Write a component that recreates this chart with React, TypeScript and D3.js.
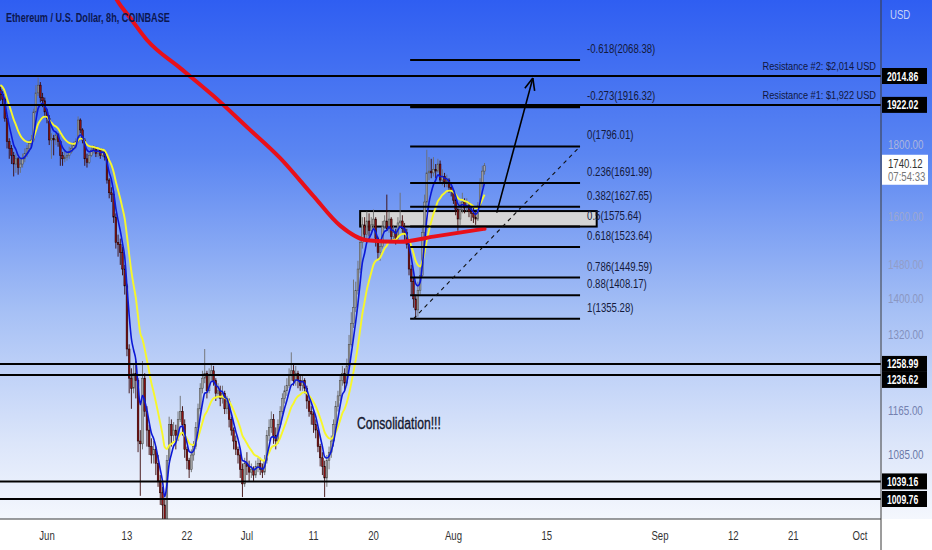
import * as d3 from 'd3'

const W = 932
const H = 550
const PLOT_R = 881
const PLOT_B = 519

// ETH/USD 8h candles from 2022-05-25 00:00 UTC
const START = Date.UTC(2022, 4, 25, 0, 0)
const BAR_MS = 8 * 3600 * 1000
const OPEN_0 = 1970

const closes = [
  1955, 1940, 1880, 1810, 1790, 1770, 1745, 1760, 1735, 1745, 1760, 1775, 1790, 1805, 1815,
  1900, 1960, 1985, 1945, 1935, 1900, 1880, 1815, 1820, 1815, 1830, 1810, 1770, 1760, 1765,
  1770, 1780, 1790, 1800, 1810, 1875, 1845, 1815, 1760, 1750, 1770, 1785, 1790, 1775, 1785,
  1770, 1780, 1765, 1700, 1665, 1660, 1600, 1535, 1530, 1510, 1470, 1430, 1290, 1230, 1210,
  1240, 1225, 1110, 1105, 1230, 1165, 1130, 1100, 1085, 1095, 1070, 1040, 1020, 1000, 960,
  1075, 1140, 1120, 1130, 1120, 1150, 1165, 1140, 1095, 1075, 1060, 1085, 1100, 1135, 1170,
  1210, 1230, 1240, 1205, 1235, 1245, 1225, 1200, 1205, 1190, 1200, 1170, 1185, 1150, 1130,
  1110, 1095, 1085, 1060, 1035, 1070, 1065, 1055, 1060, 1050, 1065, 1070, 1060, 1055, 1075,
  1120, 1135, 1150, 1120, 1110, 1140, 1165, 1190, 1205, 1215, 1235, 1245, 1225, 1240, 1225,
  1215, 1225, 1210, 1185, 1165, 1160, 1140, 1130, 1100, 1080, 1065, 1045, 1075, 1090, 1110,
  1140, 1175, 1195, 1225, 1240, 1220, 1255, 1300, 1345, 1380, 1420, 1470, 1535, 1580, 1555,
  1590, 1565, 1580, 1595, 1545, 1510, 1525, 1575, 1590, 1570, 1595, 1550, 1560, 1545, 1585,
  1590, 1570, 1560, 1530, 1470, 1440, 1400, 1375, 1420, 1455, 1560, 1640, 1720, 1725, 1720,
  1730, 1725, 1745, 1700, 1710, 1695, 1700, 1680, 1670, 1645, 1620, 1595, 1620, 1640, 1625,
  1630, 1615, 1610, 1600, 1595, 1630, 1690, 1725, 1740.12,
]
const highs = [
  1980, 1965, 1945, 1890, 1820, 1800, 1780, 1775, 1765, 1760, 1775, 1790, 1800, 1815, 1830,
  1910, 1985, 2010, 1995, 1960, 1945, 1910, 1890, 1835, 1830, 1840, 1835, 1815, 1780, 1785,
  1780, 1795, 1805, 1810, 1820, 1886, 1880, 1850, 1820, 1775, 1780, 1795, 1800, 1795, 1795,
  1790, 1790, 1785, 1770, 1705, 1680, 1670, 1610, 1555, 1545, 1525, 1480, 1435, 1300, 1250,
  1260, 1265, 1230, 1130, 1265, 1240, 1175, 1140, 1115, 1110, 1100, 1085, 1050, 1030, 1010,
  1085, 1155, 1150, 1145, 1140, 1165, 1195, 1175, 1150, 1100, 1080, 1095, 1110, 1145, 1180,
  1220, 1245, 1290, 1245, 1250, 1260, 1255, 1230, 1220, 1215, 1215, 1205, 1195, 1190, 1155,
  1135, 1120, 1100, 1090, 1070, 1080, 1090, 1075, 1070, 1065, 1075, 1080, 1080, 1070, 1085,
  1130, 1150, 1165, 1160, 1135, 1150, 1175, 1200, 1215, 1230, 1250, 1283, 1260, 1255, 1245,
  1235, 1235, 1230, 1215, 1195, 1175, 1165, 1150, 1135, 1105, 1090, 1075, 1085, 1100, 1120,
  1150, 1185, 1205, 1235, 1255, 1250, 1270, 1320, 1370, 1445, 1440, 1490, 1550, 1600, 1600,
  1615, 1610, 1600, 1620, 1600, 1550, 1540, 1590, 1605, 1660, 1615, 1600, 1580, 1570, 1600,
  1665, 1605, 1585, 1570, 1535, 1480, 1450, 1410, 1440, 1475, 1580, 1660, 1786, 1765, 1760,
  1765, 1745, 1760, 1755, 1730, 1720, 1715, 1705, 1690, 1675, 1650, 1625, 1640, 1665, 1650,
  1650, 1640, 1630, 1625, 1615, 1640, 1705, 1740, 1748,
]
const lows = [
  1935, 1920, 1870, 1790, 1760, 1745, 1710, 1720, 1715, 1720, 1735, 1750, 1765, 1780, 1795,
  1810, 1895, 1950, 1930, 1915, 1885, 1865, 1800, 1760, 1770, 1800, 1795, 1740, 1740, 1750,
  1755, 1760, 1775, 1785, 1790, 1805, 1835, 1805, 1740, 1735, 1745, 1765, 1775, 1765, 1765,
  1760, 1765, 1755, 1690, 1650, 1640, 1585, 1520, 1500, 1480, 1455, 1410, 1275, 1200, 1170,
  1200, 1190, 1090, 1015, 1095, 1155, 1100, 1085, 1070, 1070, 1050, 1030, 1000, 960, 880,
  950, 1070, 1100, 1110, 1095, 1110, 1145, 1120, 1080, 1060, 1045, 1055, 1075, 1095, 1130,
  1165, 1200, 1220, 1190, 1200, 1225, 1215, 1185, 1190, 1175, 1180, 1160, 1160, 1135, 1120,
  1095, 1085, 1070, 1045, 1013, 1030, 1050, 1040, 1045, 1040, 1045, 1055, 1050, 1045, 1050,
  1070, 1110, 1125, 1105, 1095, 1105, 1135, 1160, 1180, 1195, 1210, 1225, 1215, 1215, 1210,
  1205, 1205, 1200, 1170, 1155, 1140, 1125, 1115, 1090, 1065, 1050, 1013, 1030, 1060, 1080,
  1100, 1130, 1165, 1185, 1215, 1205, 1215, 1250, 1295, 1335, 1370, 1410, 1460, 1520, 1540,
  1545, 1550, 1555, 1570, 1525, 1495, 1490, 1520, 1570, 1565, 1560, 1535, 1540, 1530, 1540,
  1575, 1560, 1540, 1520, 1455, 1410, 1380, 1355, 1360, 1410, 1450, 1550, 1630, 1700, 1705,
  1710, 1705, 1720, 1690, 1685, 1680, 1680, 1665, 1655, 1635, 1605, 1565, 1580, 1610, 1610,
  1615, 1600, 1590, 1585, 1580, 1590, 1625, 1680, 1715,
]

// moving averages on the closes (blue fast, yellow slow), seeded from the picture
const FAST_LEN = 5
const FAST_SEED = 1970
const SLOW_LEN = 13
const SLOW_SEED = 1990

// long moving average (red), read at a few dates
const longMaDates = [
  '2022-06-10T00:00Z', '2022-06-11T12:00Z', '2022-06-13T12:00Z', '2022-06-16T00:00Z',
  '2022-06-21T00:00Z', '2022-06-26T00:00Z', '2022-07-01T00:00Z', '2022-07-06T00:00Z',
  '2022-07-11T00:00Z', '2022-07-15T00:00Z', '2022-07-19T00:00Z', '2022-07-24T00:00Z',
  '2022-07-29T00:00Z', '2022-08-05T16:00Z',
]
const longMaValues = [2357, 2281, 2215, 2137, 2041, 1950, 1854, 1762, 1656, 1578, 1541, 1537, 1550, 1570]

// horizontal support / resistance levels
const levels = [2014.86, 1922.02, 1258.99, 1236.62, 1039.16, 1009.76]
const levelLabels = ['2014.86', '1922.02', '1258.99', '1236.62', '1039.16', '1009.76']

// fibonacci retracement
const fibRatios = ['-0.618', '-0.273', '0', '0.236', '0.382', '0.5', '0.618', '0.786', '0.88', '1']
const fibPrices = [2068.38, 1916.32, 1796.01, 1691.99, 1627.65, 1575.64, 1523.64, 1449.59, 1408.17, 1355.28]
const FIB_FROM = '2022-07-25T12:00Z'
const FIB_TO = '2022-08-20T00:00Z'

// consolidation box
const BOX_FROM = '2022-07-18T00:00Z'
const BOX_TO = '2022-08-22T12:00Z'
const BOX_TOP = 1616
const BOX_BOTTOM = 1575.64

// trend line + projection arrow
const trendDates = ['2022-07-26T00:00Z', '2022-08-20T00:00Z']
const trendPrices = [1355.28, 1796.01]
const arrowDates = ['2022-08-07T12:00Z', '2022-08-12T22:00Z']
const arrowPrices = [1612, 2008]

// axes
const priceTicks = [1800, 1600, 1480, 1400, 1320, 1165, 1085]
const dateTicks = [
  '2022-06-01', '2022-06-13', '2022-06-22', '2022-07-01', '2022-07-11', '2022-07-20',
  '2022-08-01', '2022-08-15', '2022-09-01', '2022-09-12', '2022-09-21', '2022-10-01',
]
const dateLabels = ['Jun', '13', '22', 'Jul', '11', '20', 'Aug', '15', 'Sep', '12', '21', 'Oct']

const LAST_PRICE = '1740.12'
const COUNTDOWN = '07:54:33'

const FONT = "'Liberation Sans', Arial, sans-serif"

function Label({ x, y, sx = 0.8, size = 12, anchor = 'start', fill = '#111', weight = 'normal', stroke, children }: any) {
  return (
    <text
      transform={`translate(${x},${y}) scale(${sx},1)`}
      fontSize={size}
      textAnchor={anchor}
      fill={fill}
      stroke={stroke}
      strokeWidth={stroke ? 0.35 : undefined}
      fontWeight={weight}
      fontFamily={FONT}
    >
      {children}
    </text>
  )
}

function ema(values: number[], n: number, seed: number) {
  const a = 2 / (n + 1)
  let e = seed
  return values.map(v => (e = e + a * (v - e)))
}

const utc = (s: string) => new Date(s.length === 10 ? s + 'T00:00:00Z' : s)

// axis text goes from pale on the blue top to slate on the white bottom
const axisInk = d3.interpolateRgb('#c9d2f6', '#5d6b9c')

export default function App() {
  const x = d3.scaleUtc()
    .domain([utc('2022-06-01'), utc('2022-09-01')])
    .range([47, 660])
  const y = d3.scaleLog()
    .domain([2014.86, 1009.76])
    .range([76, 499])

  const bars = closes.map((c, i) => {
    const o = i === 0 ? OPEN_0 : closes[i - 1]
    return {
      t: new Date(START + i * BAR_MS),
      o, c,
      h: Math.max(highs[i], o, c),
      l: Math.min(lows[i], o, c),
    }
  })
  const fast = ema(closes, FAST_LEN, FAST_SEED)
  const slow = ema(closes, SLOW_LEN, SLOW_SEED)

  const maLine = d3.line<number>()
    .x((_d, i) => x(bars[i].t))
    .y(d => y(d))
    .curve(d3.curveMonotoneX)

  const longLine = d3.line<number>()
    .x((_d, i) => x(utc(longMaDates[i])))
    .y(d => y(d))
    .curve(d3.curveMonotoneX)

  const bodyW = 1.7

  // right-axis level boxes, pushed apart when they would overlap
  const boxY: number[] = []
  levels.forEach((p, i) => {
    let cy = y(p)
    if (i > 0 && cy - boxY[i - 1] < 16) cy = boxY[i - 1] + 16
    boxY.push(cy)
  })

  const fx0 = x(utc(FIB_FROM))
  const fx1 = x(utc(FIB_TO))

  const ax0 = x(utc(arrowDates[0])), ay0 = y(arrowPrices[0])
  const ax1 = x(utc(arrowDates[1])), ay1 = y(arrowPrices[1])
  const ang = Math.atan2(ay1 - ay0, ax1 - ax0)
  const headLen = 13
  const head = [ang + Math.PI - 0.4, ang + Math.PI + 0.4].map(a => [ax1 + headLen * Math.cos(a), ay1 + headLen * Math.sin(a)])

  const lastY = y(closes[closes.length - 1])

  return (
    <svg width={W} height={H} style={{ position: 'absolute', left: 0, top: 0, display: 'block' }}>
      <defs>
        <linearGradient id="bg" x1="0" y1="0" x2="0" y2={PLOT_B} gradientUnits="userSpaceOnUse">
          <stop offset="0" stopColor="#2f5ef2" />
          <stop offset="0.3" stopColor="#5b86f2" />
          <stop offset="0.6" stopColor="#a6c0f5" />
          <stop offset="0.85" stopColor="#dbe5fa" />
          <stop offset="1" stopColor="#f4f7fd" />
        </linearGradient>
        <clipPath id="plot">
          <rect x={0} y={0} width={PLOT_R} height={PLOT_B} />
        </clipPath>
      </defs>

      <rect x={0} y={0} width={W} height={H} fill="#ffffff" />
      <rect x={0} y={0} width={W} height={PLOT_B} fill="url(#bg)" />

      <g clipPath="url(#plot)">
        {/* consolidation box */}
        <rect
          x={x(utc(BOX_FROM))}
          y={y(BOX_TOP)}
          width={x(utc(BOX_TO)) - x(utc(BOX_FROM))}
          height={y(BOX_BOTTOM) - y(BOX_TOP)}
          fill="#d5d5d5"
          stroke="#000"
          strokeWidth={2}
        />

        {/* candles */}
        {bars.map((b, i) => {
          const up = b.c >= b.o
          const cx = x(b.t)
          const top = y(Math.max(b.o, b.c))
          const bot = y(Math.min(b.o, b.c))
          return (
            <g key={i}>
              <line x1={cx} x2={cx} y1={y(b.h)} y2={y(b.l)} stroke={up ? '#6e6e6e' : '#3a0808'} strokeWidth={0.9} />
              <rect
                x={cx - bodyW / 2}
                y={top}
                width={bodyW}
                height={Math.max(1, bot - top)}
                fill={up ? '#a3a3a3' : '#8c1212'}
                stroke={up ? '#4a4a4a' : '#1a0000'}
                strokeWidth={0.5}
              />
            </g>
          )
        })}

        <path d={maLine(slow) ?? ''} fill="none" stroke="#f7f72a" strokeWidth={1.9} />
        <path d={maLine(fast) ?? ''} fill="none" stroke="#0b18d6" strokeWidth={1.6} />
        <path d={longLine(longMaValues) ?? ''} fill="none" stroke="#e8101a" strokeWidth={4} strokeLinecap="round" />

        {/* horizontal levels */}
        {levels.map((p, i) => (
          <line key={i} x1={0} x2={PLOT_R} y1={y(p)} y2={y(p)} stroke="#000" strokeWidth={2} />
        ))}

        {/* fib lines */}
        {fibPrices.map((p, i) => (
          <line key={i} x1={fx0} x2={fx1} y1={y(p)} y2={y(p)} stroke="#000" strokeWidth={i === 1 ? 3 : 2} />
        ))}

        {/* dashed trend line */}
        <line
          x1={x(utc(trendDates[0]))}
          y1={y(trendPrices[0])}
          x2={x(utc(trendDates[1]))}
          y2={y(trendPrices[1])}
          stroke="#111"
          strokeWidth={1.1}
          strokeDasharray="4 4"
        />

        {/* projection arrow */}
        <line x1={ax0} y1={ay0} x2={ax1} y2={ay1} stroke="#000" strokeWidth={1.6} />
        {head.map(([hx, hy], i) => (
          <line key={i} x1={ax1} y1={ay1} x2={hx} y2={hy} stroke="#000" strokeWidth={1.6} />
        ))}
      </g>

      {/* fib labels */}
      {fibPrices.map((p, i) => (
        <Label key={i} x={fx1 + 7} y={y(p) - 7} size={12} sx={0.8} fill="#141a3c">
          {`${fibRatios[i]}(${p.toFixed(2)})`}
        </Label>
      ))}

      <Label x={876} y={70} size={11.5} sx={0.8} anchor="end" fill="#0f1640">Resistance #2: $2,014 USD</Label>
      <Label x={876} y={99} size={11.5} sx={0.8} anchor="end" fill="#0f1640">Resistance #1: $1,922 USD</Label>

      <Label x={357} y={429} size={16} sx={0.76} fill="#14182e" stroke="#14182e">Consolidation!!!</Label>

      <Label x={6} y={22} size={13} sx={0.7} weight="bold" fill="#0c1750">Ethereum / U.S. Dollar, 8h, COINBASE</Label>

      {/* right axis */}
      <line x1={PLOT_R} x2={PLOT_R} y1={0} y2={H} stroke="#3a3a3a" strokeWidth={1} />
      <line x1={0} x2={PLOT_R} y1={PLOT_B} y2={PLOT_B} stroke="#3a3a3a" strokeWidth={1} />
      <Label x={890} y={19} size={12} sx={0.8} fill={axisInk(0)}>USD</Label>
      {priceTicks.map(p => (
        <Label key={p} x={888} y={y(p) + 4} size={12} sx={0.82} fill={axisInk(y(p) / PLOT_B)}>{p.toFixed(2)}</Label>
      ))}
      {levels.map((_p, i) => (
        <g key={i}>
          <rect x={882} y={boxY[i] - 8} width={45} height={16} fill="#000" />
          <Label x={887} y={boxY[i] + 4.5} size={12} sx={0.72} weight="bold" fill="#fff">{levelLabels[i]}</Label>
        </g>
      ))}
      <rect x={882} y={lastY - 11} width={46} height={30} fill="#fff" />
      <Label x={888} y={lastY + 2} size={12} sx={0.8} fill="#333">{LAST_PRICE}</Label>
      <Label x={888} y={lastY + 15} size={12} sx={0.8} fill="#777">{COUNTDOWN}</Label>

      {/* bottom axis */}
      {dateTicks.map((d, i) => (
        <Label key={d} x={x(utc(d))} y={540} size={12} sx={0.8} anchor="middle" fill="#333">{dateLabels[i]}</Label>
      ))}
    </svg>
  )
}
